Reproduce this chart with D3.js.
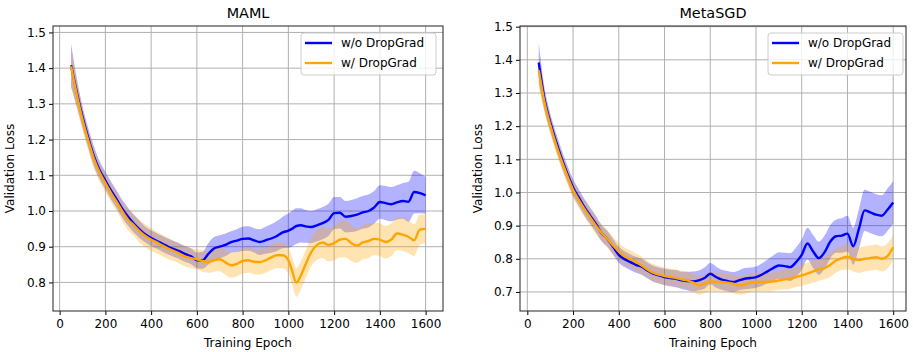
<!DOCTYPE html>
<html>
<head>
<meta charset="utf-8">
<script src="https://cdn.jsdelivr.net/npm/d3@7"></script>
<style>
  body { margin: 0; background: #fff; }
  svg { font-family: "DejaVu Sans", sans-serif; }
</style>
</head>
<body>
<svg id="chart" width="913" height="352"></svg>
<script>
'use strict';

// epochs shared by both panels (MAML gets extra points around the dip)
var epochs = [50,75,100,125,150,175,200,225,250,275,300,325,350,375,400,425,450,475,500,525,550,575,600,625,650,675,700,725,750,775,800,825,850,875,900,925,950,975,1000,1025,1050,1075,1100,1125,1150,1175,1200,1225,1250,1275,1300,1325,1350,1375,1400,1425,1450,1475,1500,1525,1550,1575,1600];
var mamlEpochs = [50,75,100,125,150,175,200,225,250,275,300,325,350,375,400,425,450,475,500,525,550,575,600,625,650,675,700,725,750,775,800,825,850,875,900,925,950,975,1000,1015,1035,1055,1075,1100,1125,1150,1175,1200,1225,1250,1275,1300,1325,1350,1375,1400,1425,1450,1475,1500,1525,1550,1575,1600];

var mamlWithout = [1.408,1.332,1.264,1.205,1.153,1.114,1.085,1.057,1.032,1.005,0.983,0.964,0.948,0.934,0.924,0.916,0.908,0.900,0.893,0.887,0.879,0.873,0.862,0.862,0.880,0.895,0.900,0.905,0.913,0.917,0.922,0.923,0.918,0.913,0.918,0.923,0.930,0.940,0.945,0.950,0.958,0.960,0.957,0.955,0.960,0.966,0.975,0.994,0.995,0.984,0.986,0.990,0.996,1.000,1.010,1.025,1.022,1.019,1.024,1.028,1.026,1.053,1.050,1.044];
var mamlWithoutSd = [0.060,0.040,0.030,0.028,0.028,0.025,0.025,0.025,0.025,0.025,0.025,0.025,0.024,0.022,0.022,0.022,0.022,0.022,0.022,0.022,0.022,0.022,0.022,0.024,0.030,0.032,0.032,0.032,0.030,0.032,0.034,0.034,0.034,0.036,0.038,0.040,0.042,0.044,0.048,0.050,0.050,0.048,0.046,0.045,0.045,0.045,0.045,0.045,0.044,0.044,0.045,0.046,0.046,0.046,0.046,0.047,0.048,0.048,0.048,0.050,0.056,0.060,0.056,0.052];
var mamlWith = [1.405,1.326,1.256,1.198,1.146,1.108,1.078,1.050,1.025,0.998,0.975,0.960,0.943,0.930,0.920,0.912,0.903,0.895,0.888,0.880,0.872,0.868,0.865,0.860,0.857,0.862,0.865,0.856,0.848,0.852,0.860,0.862,0.858,0.857,0.862,0.870,0.876,0.876,0.862,0.835,0.800,0.820,0.850,0.885,0.905,0.912,0.905,0.910,0.920,0.922,0.910,0.903,0.912,0.916,0.922,0.920,0.913,0.920,0.937,0.934,0.928,0.918,0.948,0.950];
var mamlWithSd = [0.055,0.040,0.030,0.028,0.028,0.026,0.026,0.026,0.026,0.028,0.030,0.030,0.032,0.032,0.032,0.030,0.030,0.030,0.028,0.028,0.028,0.028,0.028,0.030,0.030,0.032,0.034,0.035,0.035,0.035,0.035,0.035,0.035,0.035,0.035,0.035,0.036,0.036,0.036,0.038,0.040,0.040,0.040,0.040,0.042,0.044,0.046,0.048,0.050,0.052,0.050,0.048,0.048,0.048,0.046,0.046,0.046,0.046,0.046,0.046,0.046,0.044,0.042,0.040];

var sgdWithout = [1.392,1.282,1.212,1.155,1.103,1.057,1.015,0.985,0.955,0.930,0.905,0.877,0.860,0.836,0.812,0.799,0.790,0.782,0.776,0.765,0.755,0.750,0.745,0.742,0.740,0.735,0.733,0.732,0.735,0.742,0.755,0.745,0.737,0.733,0.730,0.735,0.740,0.742,0.745,0.752,0.762,0.772,0.780,0.778,0.775,0.790,0.812,0.846,0.822,0.802,0.820,0.852,0.868,0.870,0.876,0.838,0.890,0.946,0.940,0.933,0.930,0.948,0.970];
var sgdWithoutSd = [0.060,0.035,0.028,0.026,0.026,0.025,0.025,0.025,0.025,0.025,0.025,0.024,0.024,0.024,0.024,0.024,0.024,0.024,0.024,0.024,0.024,0.024,0.025,0.025,0.026,0.026,0.028,0.030,0.030,0.032,0.032,0.032,0.030,0.030,0.030,0.030,0.032,0.032,0.032,0.034,0.036,0.038,0.040,0.040,0.042,0.044,0.046,0.048,0.050,0.050,0.050,0.050,0.050,0.052,0.054,0.056,0.060,0.062,0.062,0.062,0.062,0.064,0.064];
var sgdWith = [1.369,1.272,1.204,1.146,1.095,1.050,1.008,0.978,0.950,0.925,0.900,0.878,0.860,0.840,0.822,0.808,0.800,0.790,0.780,0.768,0.758,0.752,0.748,0.745,0.742,0.738,0.735,0.728,0.720,0.725,0.732,0.730,0.730,0.728,0.725,0.720,0.722,0.728,0.730,0.730,0.730,0.732,0.735,0.738,0.740,0.745,0.750,0.755,0.762,0.768,0.772,0.782,0.795,0.802,0.806,0.800,0.796,0.800,0.802,0.805,0.800,0.808,0.835];
var sgdWithSd = [0.050,0.032,0.026,0.025,0.025,0.025,0.025,0.025,0.025,0.025,0.026,0.026,0.026,0.026,0.026,0.026,0.026,0.026,0.026,0.026,0.026,0.026,0.026,0.026,0.026,0.026,0.026,0.028,0.028,0.028,0.028,0.028,0.028,0.028,0.028,0.028,0.028,0.028,0.028,0.028,0.028,0.028,0.028,0.030,0.030,0.030,0.032,0.032,0.034,0.034,0.034,0.036,0.036,0.036,0.038,0.038,0.038,0.038,0.038,0.038,0.038,0.038,0.038];

var xTicks = [0,200,400,600,800,1000,1200,1400,1600];
var mamlYTicks = [0.8,0.9,1.0,1.1,1.2,1.3,1.4,1.5];
var sgdYTicks = [0.7,0.8,0.9,1.0,1.1,1.2,1.3,1.4,1.5];
var legendLabels = ["w/o DropGrad", "w/ DropGrad"];
var seriesColors = ["blue", "orange"];

var svg = d3.select('#chart');

function drawPanel(cfg) {
	var x = d3.scaleLinear().domain(cfg.xDomain).range([cfg.left, cfg.right]);
	var y = d3.scaleLinear().domain(cfg.yDomain).range([cfg.bottom, cfg.top]);
	var g = svg.append('g');

	var clipId = 'clip-' + cfg.id;
	g.append('clipPath').attr('id', clipId).append('rect')
		.attr('x', cfg.left).attr('y', cfg.top)
		.attr('width', cfg.right - cfg.left).attr('height', cfg.bottom - cfg.top);

	// grid
	g.append('g').selectAll('line').data(xTicks).join('line')
		.attr('x1', d => x(d)).attr('x2', d => x(d))
		.attr('y1', cfg.top).attr('y2', cfg.bottom)
		.attr('stroke', '#b0b0b0').attr('stroke-width', 1);
	g.append('g').selectAll('line').data(cfg.yTicks).join('line')
		.attr('x1', cfg.left).attr('x2', cfg.right)
		.attr('y1', d => y(d)).attr('y2', d => y(d))
		.attr('stroke', '#b0b0b0').attr('stroke-width', 1);

	var plot = g.append('g').attr('clip-path', 'url(#' + clipId + ')');
	var series = cfg.series;
	series.forEach(function (s, k) {
		var area = d3.area()
			.curve(d3.curveMonotoneX)
			.x((d, i) => x(cfg.epochs[i]))
			.y0((d, i) => y(d - s.sd[i]))
			.y1((d, i) => y(d + s.sd[i]));
		plot.append('path').datum(s.mean)
			.attr('d', area)
			.attr('fill', seriesColors[k]).attr('fill-opacity', 0.3);
	});
	series.forEach(function (s, k) {
		var line = d3.line().curve(d3.curveMonotoneX)
			.x((d, i) => x(cfg.epochs[i])).y(d => y(d));
		plot.append('path').datum(s.mean)
			.attr('d', line)
			.attr('fill', 'none').attr('stroke', seriesColors[k])
			.attr('stroke-width', 2.4).attr('stroke-linejoin', 'round');
	});

	// axes
	var xAxis = d3.axisBottom(x).tickValues(xTicks).tickSize(4).tickPadding(4).tickFormat(d3.format('d'));
	var yAxis = d3.axisLeft(y).tickValues(cfg.yTicks).tickSize(4).tickPadding(3).tickFormat(d3.format('.1f'));
	var gx = g.append('g').attr('transform', 'translate(0,' + cfg.bottom + ')').call(xAxis);
	var gy = g.append('g').attr('transform', 'translate(' + cfg.left + ',0)').call(yAxis);
	[gx, gy].forEach(function (a) {
		a.select('.domain').remove();
		a.selectAll('text').attr('font-size', 12).attr('fill', '#000')
			.attr('font-family', '"DejaVu Sans", sans-serif');
		a.selectAll('line').attr('stroke', '#000');
	});

	g.append('rect')
		.attr('x', cfg.left).attr('y', cfg.top)
		.attr('width', cfg.right - cfg.left).attr('height', cfg.bottom - cfg.top)
		.attr('fill', 'none').attr('stroke', '#222').attr('stroke-width', 1);

	g.append('text').text(cfg.title)
		.attr('x', (cfg.left + cfg.right) / 2).attr('y', 18)
		.attr('text-anchor', 'middle').attr('font-size', 14.4);
	g.append('text').text('Training Epoch')
		.attr('x', (cfg.left + cfg.right) / 2).attr('y', 347)
		.attr('text-anchor', 'middle').attr('font-size', 12);
	g.append('text').text('Validation Loss')
		.attr('transform', 'translate(' + cfg.yLabelX + ',' + ((cfg.top + cfg.bottom) / 2) + ') rotate(-90)')
		.attr('text-anchor', 'middle').attr('font-size', 12);

	// legend
	var lg = g.append('g').attr('transform', 'translate(' + cfg.legendX + ',33)');
	lg.append('rect').attr('width', 135).attr('height', 42).attr('rx', 3)
		.attr('fill', '#fff').attr('fill-opacity', 0.8)
		.attr('stroke', '#cccccc').attr('stroke-width', 1);
	legendLabels.forEach(function (lab, k) {
		var yy = 10 + k * 20;
		lg.append('line').attr('x1', 4).attr('x2', 31).attr('y1', yy).attr('y2', yy)
			.attr('stroke', seriesColors[k]).attr('stroke-width', 2.4);
		lg.append('text').text(lab).attr('x', 40).attr('y', yy + 4.3).attr('font-size', 12);
	});
}

drawPanel({
	id: 'maml', title: 'MAML',
	left: 53, right: 443, top: 26, bottom: 311,
	xDomain: [-29, 1676], yDomain: [0.72, 1.518],
	yTicks: mamlYTicks, epochs: mamlEpochs, yLabelX: 14, legendX: 301,
	series: [{mean: mamlWithout, sd: mamlWithoutSd}, {mean: mamlWith, sd: mamlWithSd}]
});

drawPanel({
	id: 'sgd', title: 'MetaSGD',
	left: 520, right: 906, top: 26, bottom: 311,
	xDomain: [-32, 1656], yDomain: [0.6426, 1.502],
	yTicks: sgdYTicks, epochs: epochs, yLabelX: 482, legendX: 768,
	series: [{mean: sgdWithout, sd: sgdWithoutSd}, {mean: sgdWith, sd: sgdWithSd}]
});
</script>
</body>
</html>
